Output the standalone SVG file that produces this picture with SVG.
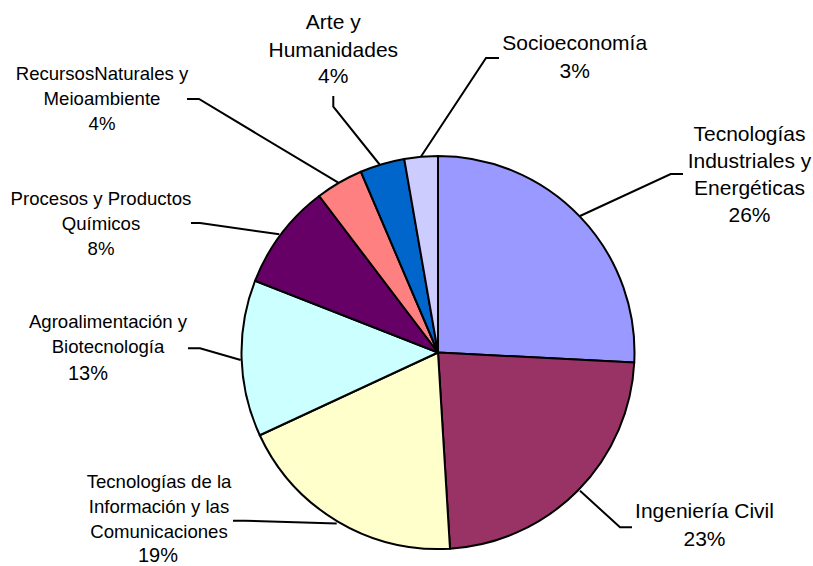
<svg xmlns="http://www.w3.org/2000/svg" width="813" height="566" viewBox="0 0 813 566">
<style>
.s{stroke:#000;stroke-width:2;stroke-linejoin:round}
.l{fill:none;stroke:#000;stroke-width:2}
text{font-family:"Liberation Sans",Arial,sans-serif;fill:#000;text-anchor:middle}
.b{font-size:21px}
.m{font-size:18.6px}
</style>
<rect width="813" height="566" fill="#fff"/>
<g id="connectors">
<polyline class="l" points="420.7,157 486,58 499,58"/>
<polyline class="l" points="580,216 670.7,174 683,174"/>
<polyline class="l" points="580,490.7 620,527.3 632,527.3"/>
<polyline class="l" points="336.7,523.5 245,520.7 233,520.7"/>
<polyline class="l" points="240.7,360 200,348.3 188,348.3"/>
<polyline class="l" points="279.3,234.3 200,223 191,223"/>
<polyline class="l" points="338.3,182.7 199,99 187,99"/>
<polyline class="l" points="380,165 333.3,106.7 333.3,96"/>
</g>
<g id="slice-tecind"><path class="s" fill="#9999FF" d="M438,352.5 L438,156 A196.5,196.5 0 0 1 634.25,362.44 Z"/></g>
<g id="slice-civil"><path class="s" fill="#993366" d="M438,352.5 L634.25,362.44 A196.5,196.5 0 0 1 450,548.63 Z"/></g>
<g id="slice-tic"><path class="s" fill="#FFFFCC" d="M438,352.5 L450,548.63 A196.5,196.5 0 0 1 259.77,435.23 Z"/></g>
<g id="slice-agro"><path class="s" fill="#CCFFFF" d="M438,352.5 L259.77,435.23 A196.5,196.5 0 0 1 255.04,280.8 Z"/></g>
<g id="slice-procesos"><path class="s" fill="#660066" d="M438,352.5 L255.04,280.8 A196.5,196.5 0 0 1 319.2,195.98 Z"/></g>
<g id="slice-recursos"><path class="s" fill="#FF8080" d="M438,352.5 L319.2,195.98 A196.5,196.5 0 0 1 360.91,171.75 Z"/></g>
<g id="slice-arte"><path class="s" fill="#0066CC" d="M438,352.5 L360.91,171.75 A196.5,196.5 0 0 1 404.22,158.93 Z"/></g>
<g id="slice-socio"><path class="s" fill="#CCCCFF" d="M438,352.5 L404.22,158.93 A196.5,196.5 0 0 1 438,156 Z"/></g>
<g id="label-arte" class="b"><text x="333.3" y="29.3">Arte y</text><text x="333.3" y="56.7">Humanidades</text><text x="333.3" y="83.3">4%</text></g>
<g id="label-socio" class="b"><text x="574.7" y="50">Socioeconomía</text><text x="574.7" y="78.3">3%</text></g>
<g id="label-tecind" class="b"><text x="749.5" y="140.5">Tecnologías</text><text x="749.5" y="168">Industriales y</text><text x="749.5" y="195">Energéticas</text><text x="749.5" y="221.5">26%</text></g>
<g id="label-civil" class="b"><text x="704.5" y="518.3">Ingeniería Civil</text><text x="704.5" y="546.3">23%</text></g>
<g id="label-tic" class="m"><text x="159" y="487.5">Tecnologías de la</text><text x="159" y="512.5">Información y las</text><text x="159" y="537.5">Comunicaciones</text><text x="158" y="561.5" font-size="20">19%</text></g>
<g id="label-agro" class="m"><text x="108" y="328.3">Agroalimentación y</text><text x="108" y="353.3">Biotecnología</text><text x="88" y="380" font-size="20">13%</text></g>
<g id="label-procesos" class="m"><text x="101" y="205">Procesos y Productos</text><text x="101" y="230">Químicos</text><text x="101" y="255">8%</text></g>
<g id="label-recursos" class="m"><text x="102" y="80">RecursosNaturales y</text><text x="102" y="105">Meioambiente</text><text x="102" y="130">4%</text></g>
</svg>
